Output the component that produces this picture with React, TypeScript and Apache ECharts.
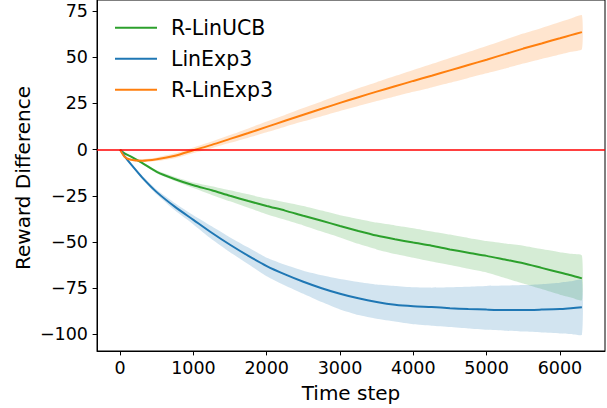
import React, { useEffect, useRef } from "react";
import * as echarts from "echarts";

const T = [0, 60, 150, 300, 500, 750, 1000, 1250, 1500, 1750, 2000, 2250, 2500, 2750, 3000, 3250, 3500, 3750, 4000, 4250, 4500, 4750, 5000, 5250, 5500, 5750, 6000, 6150, 6300];

const greenMean = [0, -2, -3.8, -7.2, -12, -16, -19.3, -22, -25, -27.8, -30.5, -33, -35.8, -38.5, -41.3, -44, -46.5, -48.5, -50.3, -52, -54, -55.8, -57.5, -59.5, -61.5, -64, -66.5, -68, -69.7];
const greenLower = [0, -2.4, -4.2, -7.8, -12.8, -17, -20.8, -24.5, -28, -31.5, -35, -38, -41, -44.3, -47.5, -51, -54, -56.5, -58.5, -60.6, -62.5, -64.5, -66.5, -69.5, -72.5, -75.5, -78.5, -80, -81.5];
const greenUpper = [0, -1.6, -3.4, -6.6, -11.2, -14.8, -17.8, -19.8, -22, -24.2, -26.5, -28.5, -30.5, -33, -35.5, -37.5, -39.5, -41, -42.5, -44.3, -46, -47.8, -49.5, -50.8, -52, -53.8, -55.5, -56.4, -57.3];

const blueMean = [0, -3.5, -8, -15, -23, -31, -38, -45, -51.5, -57.5, -63, -67.5, -71.5, -75, -78, -80.5, -82.5, -84, -84.8, -85.2, -85.8, -86.3, -86.6, -86.8, -86.8, -86.6, -86.3, -85.8, -85.3];
const blueLower = [0, -3.8, -8.5, -16, -24.3, -33, -40.5, -48.5, -55.5, -62, -68.5, -73.5, -78, -82.5, -86.5, -89.5, -91.5, -93, -94.5, -95.3, -96, -96.8, -97.5, -98, -98.5, -99, -99.5, -99.8, -100.2];
const blueUpper = [0, -3.2, -7.5, -14, -21.7, -29, -35.5, -41.5, -47.5, -53, -58.5, -62.3, -65.5, -68, -70, -71.6, -73, -73.8, -74.5, -74.7, -74.5, -74.2, -73.8, -73.6, -73.3, -72.8, -72, -71.3, -70.5];

const orangeMean = [0, -3.8, -5.5, -6, -5.2, -3.3, -0.3, 2.6, 5.8, 9, 12.3, 15.6, 18.9, 22.1, 25.3, 28.4, 31.4, 34.3, 37.2, 40, 42.9, 45.8, 48.7, 51.7, 54.7, 57.5, 60.3, 62, 63.6];
const orangeLower = [0, -4.1, -6, -6.8, -6.2, -4.6, -1.8, 0.8, 3.7, 6.5, 9.4, 12.4, 15.3, 18.1, 20.9, 23.6, 26.3, 28.8, 31.3, 33.7, 36.2, 38.8, 41.3, 43.9, 46.6, 49.1, 51.5, 53, 54.4];
const orangeUpper = [0, -3.5, -5, -5.2, -4.2, -2, 1.2, 4.4, 7.9, 11.5, 15.2, 18.8, 22.5, 26.1, 29.7, 33.2, 36.5, 39.8, 43.1, 46.3, 49.6, 52.8, 56.1, 59.5, 62.8, 65.9, 69.1, 71, 72.8];

const X_TICKS = [0, 1000, 2000, 3000, 4000, 5000, 6000];
const Y_TICKS = [-100, -75, -50, -25, 0, 25, 50, 75];

const SERIES_NAMES = ["R-LinUCB", "LinExp3", "R-LinExp3"];
const COLORS = ["#2ca02c", "#1f77b4", "#ff7f0e"];
const FILLS = ["rgba(44,160,44,0.2)", "rgba(31,119,180,0.2)", "rgba(255,127,14,0.2)"];

const FONT = "DejaVu Sans";

const fmt = (v: number) => (v < 0 ? "\u2212" + Math.abs(v) : String(v));

function band(lower: number[], upper: number[], fill: string, z: number) {
  return {
    type: "custom",
    silent: true,
    z,
    data: [[T[0], lower[0]]],
    renderItem: (_params: any, api: any) => {
      const pts: number[][] = [];
      for (let i = 0; i < T.length; i++) pts.push(api.coord([T[i], upper[i]]));
      for (let i = T.length - 1; i >= 0; i--) pts.push(api.coord([T[i], lower[i]]));
      return { type: "polygon", shape: { points: pts, smooth: 0.15 }, style: { fill, stroke: "none" } };
    },
  };
}

function line(name: string, values: number[], color: string, extra: any = {}) {
  return {
    type: "line",
    name,
    data: T.map((t, i) => [t, values[i]]),
    showSymbol: false,
    symbol: "none",
    smooth: 0.25,
    lineStyle: { color, width: 2 },
    itemStyle: { color },
    z: 5,
    ...extra,
  };
}

export default function App() {
  const ref = useRef<HTMLDivElement>(null);
  useEffect(() => {
    if (!ref.current) return;
    const chart = echarts.init(ref.current, null, { renderer: "svg" });
    const axisCommon = {
      type: "value",
      splitLine: { show: false },
      axisLine: { show: true, onZero: false, lineStyle: { color: "#000", width: 1 } },
    };
    chart.setOption({
      animation: false,
      backgroundColor: "#ffffff",
      grid: { left: 97, right: 2, top: 0, bottom: 57, show: true, borderColor: "#000", borderWidth: 1, backgroundColor: "transparent" },
      xAxis: {
        ...axisCommon,
        min: -315,
        max: 6615,
        axisTick: { show: true, length: 4.4, customValues: X_TICKS, lineStyle: { color: "#000", width: 1 } },
        axisLabel: {
          customValues: X_TICKS,
          margin: 8,
          color: "#000",
          fontSize: 17.5,
          fontFamily: FONT,
          formatter: (v: number) => (X_TICKS.includes(v) ? fmt(v) : ""),
        },
      },
      yAxis: {
        ...axisCommon,
        min: -109,
        max: 81,
        axisTick: { show: true, length: 4.4, customValues: Y_TICKS, lineStyle: { color: "#000", width: 1 } },
        axisLabel: {
          customValues: Y_TICKS,
          margin: 9,
          color: "#000",
          fontSize: 17.5,
          fontFamily: FONT,
          formatter: (v: number) => (Y_TICKS.includes(v) ? fmt(v) : ""),
        },
      },
      legend: {
        data: SERIES_NAMES.map((n) => ({ name: n, icon: "rect" })),
        orient: "vertical",
        left: 115,
        top: 17.3,
        padding: 0,
        itemWidth: 42,
        itemHeight: 2,
        itemGap: 10,
        textStyle: { fontSize: 20.5, fontFamily: FONT, color: "#000", lineHeight: 20, padding: [0, 0, 0, 9] },
        selectedMode: false,
      },
      graphic: [
        {
          type: "text",
          x: 351,
          y: 393,
          style: { text: "Time step", fontSize: 20, fontFamily: FONT, fill: "#000", align: "center", verticalAlign: "middle" },
        },
        {
          type: "text",
          x: 22.6,
          y: 178,
          rotation: Math.PI / 2,
          style: { text: "Reward Difference", fontSize: 20, fontFamily: FONT, fill: "#000", align: "center", verticalAlign: "middle" },
        },
      ],
      series: [
        band(greenLower, greenUpper, FILLS[0], 1),
        band(blueLower, blueUpper, FILLS[1], 1),
        band(orangeLower, orangeUpper, FILLS[2], 1),
        line(SERIES_NAMES[0], greenMean, COLORS[0], {
          markLine: {
            silent: true,
            symbol: ["none", "none"],
            label: { show: false },
            lineStyle: { color: "#ff0000", width: 1.5, type: "solid" },
            data: [{ yAxis: 0 }],
            z: 6,
          },
        }),
        line(SERIES_NAMES[1], blueMean, COLORS[1]),
        line(SERIES_NAMES[2], orangeMean, COLORS[2]),
      ],
    });
    return () => chart.dispose();
  }, []);
  return <div ref={ref} style={{ position: "absolute", left: 0, top: 0, width: 607, height: 408 }} />;
}
